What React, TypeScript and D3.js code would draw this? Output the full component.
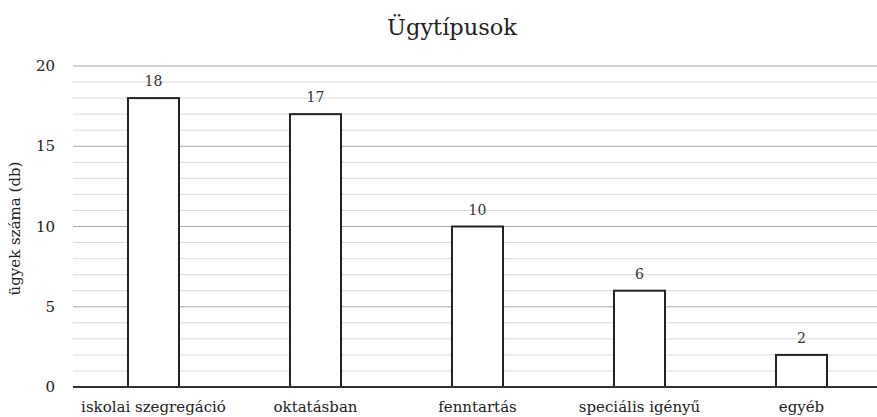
import React from "react";
import * as d3 from "d3";

const categories = ["iskolai szegregáció", "oktatásban", "fenntartás", "speciális igényű", "egyéb"];
const values = [18, 17, 10, 6, 2];
const majorTicks = [0, 5, 10, 15, 20];
const minorTicks = d3.range(0, 21, 1);

const W = 877;
const H = 417;
const font = "DejaVu Serif";

export default function App() {
  const left = 72.5;
  const right = 882.5;
  const top = 66;
  const bottom = 387;
  const x = d3.scaleBand<string>().domain(categories).range([left, right]).paddingInner(0.685).paddingOuter(0.3425);
  const y = d3.scaleLinear().domain([0, 20]).range([bottom, top]);
  return (
    <svg width={W} height={H} style={{ position: "absolute", left: 0, top: 0, background: "#fff", fontFamily: font }}>
      <text x={452} y={35} textAnchor="middle" fontSize={22.5} fill="#222">Ügytípusok</text>
      {minorTicks.filter(t => t % 5 !== 0).map(t => (
        <line key={"m" + t} x1={73} x2={W} y1={y(t)} y2={y(t)} stroke="#d9d9d9" strokeWidth={1} />
      ))}
      {majorTicks.filter(t => t !== 0).map(t => (
        <line key={"M" + t} x1={73} x2={W} y1={y(t)} y2={y(t)} stroke="#a6a6a6" strokeWidth={1} />
      ))}
      {categories.map((c, i) => (
        <g key={c}>
          <rect x={x(c)} y={y(values[i])} width={x.bandwidth()} height={bottom - y(values[i])} fill="#fff" stroke="#222" strokeWidth={2} />
          <text x={x(c)! + x.bandwidth() / 2} y={y(values[i]) - 12} textAnchor="middle" fontSize={14} fill="#333">{values[i]}</text>
          <text x={x(c)! + x.bandwidth() / 2} y={412} textAnchor="middle" fontSize={15} fill="#222">{c}</text>
        </g>
      ))}
      <line x1={73} x2={W} y1={bottom} y2={bottom} stroke="#333" strokeWidth={2} />
      {majorTicks.map(t => (
        <text key={"t" + t} x={55} y={y(t) + 5} textAnchor="end" fontSize={15} fill="#222">{t}</text>
      ))}
      <text transform={`translate(20,${(top + bottom) / 2 + 2}) rotate(-90)`} textAnchor="middle" fontSize={15} fill="#222">ügyek száma (db)</text>
    </svg>
  );
}
